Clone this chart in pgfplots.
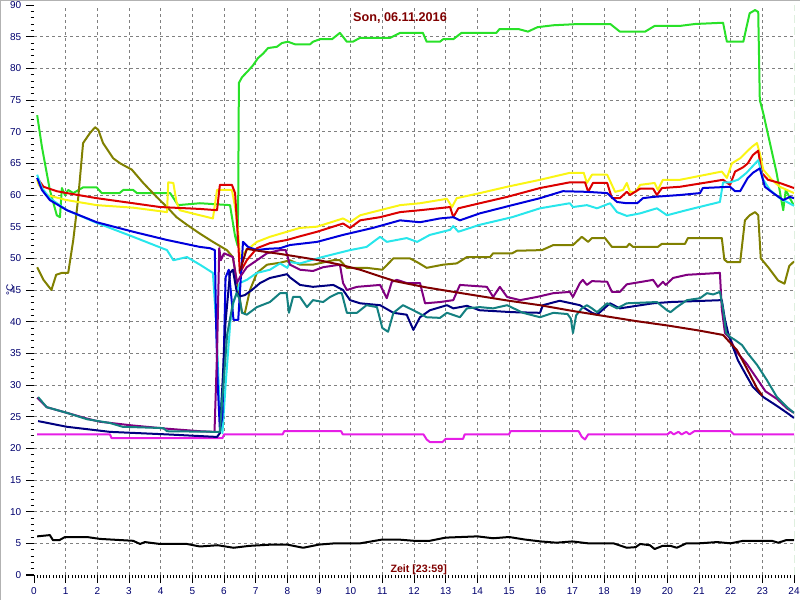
\documentclass[border=0pt]{standalone}
\usepackage{fontspec}
\setmainfont{Liberation Sans}
\usepackage{pgfplots}
\pgfplotsset{compat=1.18}
\definecolor{cLime}{RGB}{40,225,40}
\definecolor{cOlive}{RGB}{128,128,0}
\definecolor{cYellow}{RGB}{250,245,20}
\definecolor{cRed}{RGB}{220,0,0}
\definecolor{cBlue}{RGB}{0,0,220}
\definecolor{cCyan}{RGB}{40,230,235}
\definecolor{cPurple}{RGB}{128,0,128}
\definecolor{cNavy}{RGB}{0,0,128}
\definecolor{cTeal}{RGB}{20,128,128}
\definecolor{cMaroon}{RGB}{128,0,0}
\definecolor{cMagenta}{RGB}{230,30,230}
\definecolor{cLabel}{RGB}{0,0,110}
\definecolor{cTitle}{RGB}{128,0,0}
\definecolor{cNow}{RGB}{0,128,0}
\begin{document}
\begin{tikzpicture}[x=1pt,y=1pt]
\useasboundingbox (0,0) rectangle (600,450);
\draw[gray!60, line width=0.75pt] (0.375,0) -- (0.375,449.625) -- (600,449.625);
\begin{axis}[
  at={(25.5pt,18.75pt)}, anchor=south west,
  width=570pt, height=427.5pt, scale only axis,
  xmin=0, xmax=24, ymin=0, ymax=90,
  axis line style={draw=none},
  xtick={1,...,23}, ytick={5,10,...,85},
  extra x ticks={0,24}, extra y ticks={0,90},
  extra tick style={grid=none},
  minor xtick={0,0.1,...,24.01},
  minor ytick={0,1,...,90},
  xtick pos=bottom, ytick pos=left,
  grid=major,
  major grid style={gray, line width=0.75pt, dash pattern=on 2.25pt off 2.25pt},
  tick align=outside,
  major tick length=6pt, minor tick length=2.6pt,
  every tick/.style={black, line width=0.75pt},
  /pgf/number format/assume math mode=true,
  ticklabel style={font=\fontsize{7.5}{9}\selectfont, text=cLabel},
  every axis plot/.append style={line width=1.5pt, line join=round, no markers},
  clip=true,
]
\addplot[cNow, line width=0.75pt, dash pattern=on 6pt off 3pt] coordinates {(24,0)(24,90)};
\addplot[cMagenta] coordinates {(0.1,22.2)(2.4,22.2)(2.45,21.6)(5.95,21.6)(6.0,22.2)(7.85,22.2)(7.9,22.7)(9.7,22.7)(9.75,22.2)(12.3,22.2)(12.4,21.4)(12.5,21.0)(12.9,21.0)(13.0,21.5)(13.55,21.5)(13.6,22.2)(15.0,22.2)(15.05,22.7)(17.2,22.7)(17.3,21.8)(17.4,21.4)(17.5,22.2)(20.0,22.2)(20.1,22.6)(20.2,22.2)(20.35,22.6)(20.45,22.2)(20.6,22.6)(20.7,22.2)(20.85,22.7)(22.0,22.7)(22.1,22.2)(24,22.2)};
\addplot[black] coordinates {(0.1,6.1)(0.5,6.3)(0.6,5.5)(0.8,5.5)(0.98,6.0)(1.67,6.0)(2.08,5.7)(3.13,5.4)(3.35,4.9)(3.5,5.2)(3.98,4.9)(4.83,4.9)(5.24,4.5)(5.8,4.7)(6.3,4.3)(6.8,4.6)(7.5,4.8)(8.0,4.8)(8.5,4.3)(9.0,4.8)(9.5,5.0)(10.3,5.0)(11.0,5.6)(11.5,5.6)(12.0,5.4)(12.5,5.4)(13.0,5.9)(13.5,6.0)(14.0,6.1)(14.5,5.8)(15.0,6.0)(15.5,5.6)(16.0,5.3)(16.5,5.1)(17.0,5.3)(17.5,5.0)(18.3,5.0)(18.72,4.3)(19.0,4.4)(19.14,4.9)(19.45,4.7)(19.6,4.1)(19.85,4.6)(20.1,4.6)(20.3,4.3)(20.6,5.0)(21.0,5.0)(21.57,5.2)(22.0,5.0)(22.4,5.4)(23.3,5.4)(23.5,5.1)(23.75,5.5)(24,5.5)};
\addplot[cLime] coordinates {(0.1,72.6)(0.25,67.6)(0.5,60.8)(0.72,56.8)(0.82,56.5)(0.88,61.1)(0.98,60.0)(1.08,60.8)(1.24,60.3)(1.55,61.2)(1.98,61.2)(2.14,60.3)(2.7,60.3)(2.82,60.8)(3.13,60.8)(3.25,60.3)(4.3,60.3)(4.55,58.4)(5.24,58.7)(6.19,58.4)(6.35,53.5)(6.43,52.0)(6.45,60.0)(6.47,77.7)(6.57,78.6)(6.76,79.6)(6.92,80.5)(7.07,81.6)(7.23,82.3)(7.39,83.2)(7.67,83.4)(7.83,84.0)(8.02,84.2)(8.24,83.8)(8.72,83.8)(8.81,84.2)(9.03,84.6)(9.41,84.6)(9.66,85.6)(9.88,84.2)(10.07,84.2)(10.29,84.8)(11.24,84.8)(11.56,85.6)(12.28,85.6)(12.4,84.2)(12.82,84.2)(12.92,84.6)(13.24,84.6)(13.5,85.6)(14.6,85.6)(14.7,86.2)(15.3,86.2)(15.6,85.8)(15.9,86.5)(16.4,86.8)(17.2,87.0)(18.2,87.0)(18.5,85.8)(19.3,85.8)(19.6,86.7)(20.4,86.7)(20.87,87.0)(21.76,87.2)(21.88,84.2)(22.4,84.2)(22.5,86.5)(22.6,88.7)(22.77,89.2)(22.87,88.9)(22.92,75.0)(23.03,72.9)(23.24,68.2)(23.45,63.5)(23.6,59.2)(23.66,57.6)(23.74,60.8)(23.87,59.5)(24,58.3)};
\addplot[cOlive] coordinates {(0.1,48.6)(0.3,46.6)(0.55,45.0)(0.7,47.4)(0.88,47.7)(1.08,47.7)(1.24,52.9)(1.39,59.2)(1.55,68.2)(1.77,69.8)(1.93,70.7)(2.03,70.3)(2.18,68.2)(2.5,65.8)(2.72,65.0)(3.09,64.0)(3.45,61.9)(3.87,59.7)(4.2,58.1)(4.5,56.5)(4.83,55.3)(5.24,53.9)(5.65,52.6)(6.09,51.3)(6.28,50.2)(6.45,45.0)(6.57,41.4)(6.66,41.4)(6.82,45.0)(7.04,47.7)(7.36,49.0)(7.77,49.3)(8.08,49.7)(8.4,49.0)(8.81,49.0)(9.45,49.7)(9.66,49.7)(9.88,48.5)(10.5,48.5)(11.0,48.2)(11.35,50.0)(11.87,50.0)(12.1,49.4)(12.4,48.5)(12.92,49.0)(13.35,49.2)(13.67,50.2)(14.4,50.2)(14.5,50.8)(15.1,50.8)(15.25,51.2)(16.04,51.3)(16.4,52.1)(17.02,52.1)(17.3,53.4)(17.5,52.6)(17.62,53.2)(18.03,53.2)(18.25,51.8)(18.72,51.8)(18.8,52.3)(18.92,51.8)(19.7,51.8)(19.83,52.3)(20.56,52.3)(20.65,53.2)(21.72,53.2)(21.8,49.8)(21.9,49.4)(22.3,49.4)(22.45,56.0)(22.6,56.8)(22.77,57.3)(22.87,56.8)(22.95,50.0)(23.2,48.5)(23.5,46.5)(23.7,46.0)(23.85,48.8)(24,49.5)};
\addplot[cYellow] coordinates {(0.1,62.4)(0.15,61.6)(0.4,60.0)(1.03,59.2)(1.98,58.4)(3.13,58.0)(4.2,57.3)(4.24,62.0)(4.4,61.9)(4.5,58.9)(4.6,57.6)(5.24,56.8)(5.65,56.3)(5.78,60.8)(6.25,60.8)(6.35,58.1)(6.45,54.0)(6.5,50.2)(6.72,51.3)(7.04,52.6)(7.45,53.4)(7.99,54.2)(8.4,54.8)(8.94,55.0)(9.76,56.3)(9.98,55.7)(10.3,56.8)(10.93,57.6)(11.56,58.4)(12.19,58.7)(13.04,59.4)(13.2,58.1)(13.35,59.5)(14.08,60.3)(14.94,61.3)(15.98,62.4)(16.92,63.5)(17.36,63.5)(17.46,61.9)(17.62,63.2)(18.1,63.2)(18.35,60.5)(18.6,60.8)(18.72,61.9)(18.82,60.5)(19.0,60.5)(19.14,61.6)(19.6,61.9)(19.7,60.8)(19.86,62.4)(20.4,62.4)(21.72,63.7)(21.88,62.7)(22.04,65.0)(22.3,65.8)(22.5,66.8)(22.67,67.6)(22.83,68.2)(22.92,66.6)(23.03,64.0)(23.3,62.4)(23.55,61.3)(24,60.3)};
\addplot[cRed] coordinates {(0.1,62.7)(0.3,61.3)(0.72,60.6)(1.04,60.3)(1.98,59.5)(3.13,58.7)(3.98,58.1)(5.24,57.8)(5.78,57.6)(5.87,61.6)(6.25,61.6)(6.35,60.3)(6.45,52.4)(6.5,47.7)(6.72,49.7)(7.04,51.6)(7.45,52.4)(7.99,52.9)(8.34,53.4)(8.94,54.2)(9.76,55.5)(9.98,54.8)(10.3,56.0)(10.93,56.5)(11.56,57.3)(12.19,57.6)(13.14,58.1)(13.24,56.5)(13.4,57.9)(14.08,58.7)(14.94,59.7)(15.98,61.1)(16.92,62.0)(17.4,62.0)(17.5,60.5)(17.65,61.9)(18.1,61.9)(18.25,59.5)(18.5,59.5)(18.72,60.5)(18.82,60.0)(19.14,61.0)(19.55,61.0)(19.67,60.0)(19.83,61.1)(20.4,61.3)(21.76,62.4)(21.98,61.6)(22.14,63.7)(22.4,64.4)(22.54,65.0)(22.7,66.3)(22.87,67.0)(22.98,63.5)(23.18,62.4)(23.55,61.9)(24,61.1)};
\addplot[cCyan] coordinates {(0.1,63.2)(0.25,61.1)(0.5,59.5)(1.04,57.6)(1.98,55.6)(3.13,53.4)(4.2,51.3)(4.4,49.7)(4.83,50.2)(5.24,49.0)(5.65,47.7)(5.75,40.0)(5.85,28.0)(5.95,22.4)(6.05,30.0)(6.2,40.0)(6.3,43.0)(6.5,46.1)(6.72,46.6)(7.04,47.7)(7.45,48.2)(7.77,49.2)(8.0,48.5)(8.08,49.4)(8.4,49.2)(9.1,50.2)(9.98,51.3)(10.5,51.8)(10.93,53.4)(11.14,52.6)(11.77,53.2)(12.1,52.6)(12.5,53.7)(13.14,54.5)(13.24,55.1)(13.4,54.2)(14.08,55.3)(15.1,56.5)(15.98,57.9)(16.92,58.7)(17.02,58.1)(17.46,58.4)(17.78,57.9)(18.19,58.7)(18.41,57.3)(18.72,56.7)(19.14,57.1)(19.67,57.9)(19.99,56.8)(20.6,57.6)(21.66,58.9)(21.76,62.0)(21.98,62.0)(22.23,62.4)(22.5,63.5)(22.87,65.5)(23.03,62.4)(23.24,60.8)(23.55,59.5)(24,58.3)};
\addplot[cBlue] coordinates {(0.1,62.7)(0.25,60.8)(0.5,59.2)(1.04,57.6)(1.98,55.7)(3.13,54.2)(4.2,52.9)(5.24,51.8)(5.56,51.6)(5.71,51.3)(5.75,39.8)(5.8,30.3)(5.87,22.9)(5.95,25.0)(6.05,47.0)(6.15,48.2)(6.3,40.3)(6.45,40.3)(6.6,52.6)(6.76,51.8)(7.04,51.3)(7.36,51.5)(7.77,51.6)(8.08,52.1)(8.94,52.6)(9.76,53.7)(10.7,54.8)(11.56,56.0)(12.19,55.7)(12.82,56.3)(13.24,56.5)(13.45,56.0)(14.08,57.1)(15.1,58.4)(15.98,59.5)(16.7,60.6)(17.46,60.5)(18.1,60.3)(18.41,58.9)(18.72,58.7)(19.05,58.7)(19.23,59.5)(19.55,59.7)(20.4,60.0)(21.03,60.3)(21.12,61.1)(21.98,61.3)(22.14,60.6)(22.3,60.6)(22.54,62.7)(22.7,63.5)(22.92,64.2)(23.08,61.3)(23.34,60.3)(23.66,59.2)(23.87,59.7)(24,59.5)};
\addplot[cPurple] coordinates {(0.1,28.0)(0.4,26.5)(1.04,25.6)(1.67,24.7)(2.08,24.2)(3.13,23.6)(4.2,23.1)(5.24,22.7)(5.7,22.6)(5.78,35.0)(5.85,51.6)(5.9,49.7)(6.0,50.8)(6.28,50.2)(6.41,46.1)(6.5,47.0)(6.72,48.6)(7.04,49.7)(7.36,50.8)(7.77,51.3)(7.95,51.3)(8.08,49.0)(8.4,48.2)(8.81,48.0)(9.13,48.6)(9.66,49.0)(9.76,46.1)(9.88,45.0)(10.2,45.5)(10.93,45.8)(11.14,43.7)(11.3,46.3)(11.46,46.6)(11.77,46.1)(12.19,46.1)(12.35,42.9)(12.82,43.1)(13.24,43.4)(13.45,45.8)(14.3,45.5)(14.5,43.9)(14.71,45.5)(14.94,43.9)(15.35,43.4)(15.88,43.9)(16.4,44.5)(16.92,44.7)(17.02,43.9)(17.24,46.1)(17.33,46.6)(17.46,45.8)(17.62,46.4)(18.1,46.3)(18.25,44.7)(18.5,44.7)(18.72,45.9)(19.55,46.6)(19.7,45.5)(19.86,46.3)(19.95,45.8)(20.18,46.9)(20.62,47.4)(21.66,47.7)(21.72,42.0)(21.82,38.2)(21.98,37.4)(22.14,35.5)(22.5,33.4)(22.83,31.0)(23.1,29.0)(23.46,27.8)(23.78,26.3)(24,25.6)};
\addplot[cNavy] coordinates {(0.13,24.3)(1.04,23.4)(2.4,22.6)(4.2,22.2)(5.78,21.8)(5.87,22.4)(5.95,30.0)(6.05,40.0)(6.19,47.7)(6.28,48.2)(6.41,44.5)(6.5,44.0)(6.66,44.2)(6.88,45.0)(7.14,46.1)(7.45,46.9)(7.99,47.5)(8.08,47.0)(8.4,45.8)(8.81,45.5)(9.45,45.8)(9.76,45.0)(9.98,43.4)(10.3,42.9)(10.93,42.6)(11.35,41.4)(11.77,41.1)(11.98,38.7)(12.19,40.7)(12.5,41.8)(13.04,42.6)(13.24,42.1)(13.67,42.5)(14.08,41.8)(15.1,41.5)(15.98,41.4)(16.07,42.6)(16.6,43.3)(17.24,42.6)(17.62,41.4)(17.78,41.1)(18.19,42.9)(18.5,42.1)(19.55,42.9)(20.1,43.1)(21.72,43.4)(21.82,40.3)(21.92,38.2)(22.07,36.0)(22.23,33.9)(22.45,31.9)(22.7,29.7)(23.03,28.1)(23.46,26.7)(23.78,25.6)(24,24.8)};
\addplot[cTeal] coordinates {(0.13,28.1)(0.4,26.5)(1.04,25.6)(1.67,24.6)(2.4,24.0)(2.8,23.4)(4.08,23.2)(4.2,22.7)(5.87,22.6)(5.95,28.0)(6.1,38.0)(6.28,42.9)(6.4,44.5)(6.5,43.5)(6.57,41.4)(6.72,41.1)(7.04,42.3)(7.45,43.1)(7.77,44.5)(7.98,44.5)(8.05,41.4)(8.18,43.9)(8.4,43.9)(8.62,42.3)(8.81,43.4)(9.13,43.1)(9.35,43.9)(9.6,44.5)(9.72,44.5)(9.88,41.4)(10.2,41.4)(10.5,42.6)(10.83,42.3)(11.0,39.0)(11.18,38.4)(11.35,41.4)(11.65,42.6)(11.98,41.8)(12.4,40.7)(12.82,40.6)(13.04,41.4)(13.45,40.7)(13.67,42.1)(14.08,42.3)(14.5,42.1)(14.94,42.6)(15.44,41.4)(15.98,40.7)(16.4,41.4)(16.85,41.2)(16.95,40.5)(17.02,38.2)(17.12,41.0)(17.3,42.1)(17.46,42.6)(17.62,42.1)(17.78,41.5)(18.1,42.9)(18.41,42.1)(18.72,42.9)(19.67,43.1)(19.99,41.8)(20.1,41.5)(20.3,42.3)(20.62,43.4)(21.03,43.7)(21.25,44.5)(21.45,44.3)(21.66,44.7)(21.76,42.0)(21.86,38.2)(21.98,37.6)(22.14,37.1)(22.36,36.3)(22.54,35.0)(22.83,33.2)(23.14,30.8)(23.46,28.1)(23.78,26.5)(24,25.6)};
\addplot[cMaroon] coordinates {(6.5,48.0)(6.72,51.5)(7.2,51.1)(7.77,50.7)(8.4,50.2)(9.0,49.7)(9.66,49.0)(10.3,48.2)(10.9,47.2)(11.4,46.4)(12.4,45.4)(13.5,44.5)(15.0,43.3)(15.98,42.6)(17.0,41.7)(18.0,40.9)(19.0,40.1)(20.0,39.4)(21.0,38.6)(21.76,37.9)(22.2,35.5)(22.5,32.7)(22.83,29.5)(23.0,28.3)};
\end{axis}
\node[font=\bfseries\fontsize{9.5}{11}\selectfont, text=cTitle] at (300,436.5) {Son, 06.11.2016};
\node[font=\bfseries\fontsize{8}{9.5}\selectfont, text=cTitle] at (314,22.5) {Zeit [23:59]};
\node[rotate=90, font=\fontsize{7.5}{9}\selectfont, text=cLabel] at (7.5,232.5) {°C};
\end{tikzpicture}
\end{document}
